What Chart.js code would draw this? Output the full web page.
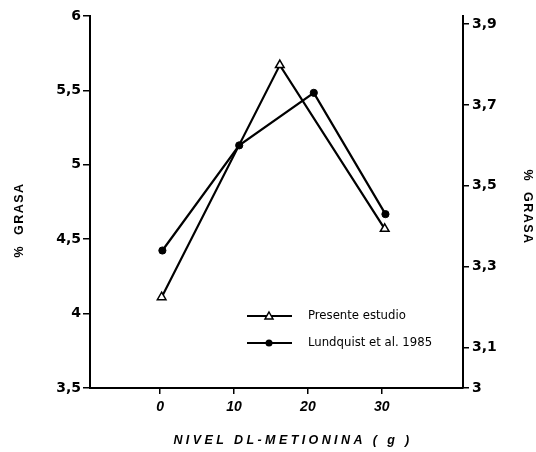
<!DOCTYPE html>
<html>
<head>
<meta charset="utf-8">
<script src="https://cdn.jsdelivr.net/npm/chart.js@4.4.1/dist/chart.umd.min.js"></script>
<style>
  html, body { margin: 0; padding: 0; background: #fff; }
  #wrap { width: 536px; height: 452px; position: relative; }
</style>
</head>
<body>
<div id="wrap"><canvas id="c"></canvas></div>
<script>
// ---- data ----
const xTicks = [0, 10, 20, 30];
const leftTicks = [3.5, 4, 4.5, 5, 5.5, 6];
const rightTicks = [3, 3.1, 3.3, 3.5, 3.7, 3.9];

const presX = [0.2, 16.2, 30.4];
const presY = [4.11, 5.67, 4.57];

const lundX = [0.3, 10.7, 20.8, 30.5];
const lundY = [3.34, 3.6, 3.73, 3.43];

const seriesNames = ['Presente estudio', 'Lundquist et al. 1985'];
const xTitle = 'NIVEL DL-METIONINA ( g )';
const yTitle = '%  GRASA';

const pts = (xs, ys) => xs.map((x, i) => ({ x: x, y: ys[i] }));
const fmt = v => String(v).replace('.', ',');

const titlesAndLegend = {
  id: 'titlesAndLegend',
  afterDraw(chart) {
    const ctx = chart.ctx;
    const a = chart.chartArea;
    ctx.save();
    ctx.fillStyle = '#000';
    ctx.strokeStyle = '#000';
    // x title
    ctx.font = 'italic bold 12.5px "Liberation Sans", sans-serif';
    if ('letterSpacing' in ctx) ctx.letterSpacing = '3.4px';
    ctx.textAlign = 'center';
    ctx.textBaseline = 'middle';
    ctx.fillText(xTitle, 293, 441);
    // left y title
    ctx.font = 'bold 12.5px "Liberation Sans", sans-serif';
    if ('letterSpacing' in ctx) ctx.letterSpacing = '1.5px';
    ctx.save();
    ctx.translate(19.5, 220);
    ctx.rotate(-Math.PI / 2);
    ctx.fillText(yTitle, 0, 0);
    ctx.restore();
    // right y title
    ctx.save();
    ctx.translate(527.5, 207);
    ctx.rotate(Math.PI / 2);
    ctx.fillText(yTitle, 0, 0);
    ctx.restore();
    if ('letterSpacing' in ctx) ctx.letterSpacing = '0px';

    // legend
    const rows = [316, 343];
    const x0 = a.left + 157, x1 = a.left + 202, xm = a.left + 179;
    ctx.lineWidth = 2;
    ctx.font = '13px "Liberation Sans Narrow", "DejaVu Sans Condensed", sans-serif';
    ctx.textAlign = 'left';
    rows.forEach((y, i) => {
      ctx.beginPath();
      ctx.moveTo(x0, y);
      ctx.lineTo(x1, y);
      ctx.stroke();
      if (i === 0) {
        ctx.beginPath();
        ctx.moveTo(xm, y - 4);
        ctx.lineTo(xm + 4, y + 3);
        ctx.lineTo(xm - 4, y + 3);
        ctx.closePath();
        ctx.fillStyle = '#fff';
        ctx.fill();
        ctx.lineWidth = 1.5;
        ctx.stroke();
        ctx.lineWidth = 2;
        ctx.fillStyle = '#000';
      } else {
        ctx.beginPath();
        ctx.arc(xm, y, 3.5, 0, Math.PI * 2);
        ctx.fill();
      }
      ctx.fillText(seriesNames[i], a.left + 218, y);
    });
    ctx.restore();
  }
};

new Chart(document.getElementById('c'), {
  type: 'line',
  data: {
    datasets: [
      {
        label: seriesNames[0],
        data: pts(presX, presY),
        yAxisID: 'y',
        borderColor: '#000',
        borderWidth: 2.2,
        pointStyle: 'triangle',
        pointRadius: 5,
        pointBackgroundColor: '#fff',
        pointBorderColor: '#000',
        pointBorderWidth: 1.5,
        tension: 0
      },
      {
        label: seriesNames[1],
        data: pts(lundX, lundY),
        yAxisID: 'y2',
        borderColor: '#000',
        borderWidth: 2.2,
        pointStyle: 'circle',
        pointRadius: 3.6,
        pointBackgroundColor: '#000',
        pointBorderColor: '#000',
        pointBorderWidth: 1,
        tension: 0
      }
    ]
  },
  options: {
    responsive: true,
    maintainAspectRatio: false,
    animation: false,
    layout: { padding: { top: 16, left: 0, right: 0, bottom: 0 } },
    plugins: { legend: { display: false }, tooltip: { enabled: false } },
    scales: {
      x: {
        type: 'linear',
        min: -9.5,
        max: 41,
        afterBuildTicks: s => { s.ticks = xTicks.map(v => ({ value: v })); },
        afterFit: s => { s.height = 64; },
        grid: { drawOnChartArea: false, drawTicks: true, tickLength: 6, color: '#000', lineWidth: 1.5 },
        border: { display: true, color: '#000', width: 2 },
        ticks: {
          color: '#000',
          padding: 5,
          font: { family: '"Liberation Sans", sans-serif', size: 14, weight: 'bold', style: 'italic' },
          callback: v => fmt(v)
        }
      },
      y: {
        position: 'left',
        min: 3.5,
        max: 6,
        afterBuildTicks: s => { s.ticks = leftTicks.map(v => ({ value: v })); },
        afterFit: s => { s.width = 90; },
        grid: { drawOnChartArea: false, drawTicks: true, tickLength: 7, color: '#000', lineWidth: 1.5 },
        border: { display: true, color: '#000', width: 2 },
        ticks: {
          color: '#000',
          padding: 2,
          font: { family: '"DejaVu Sans", sans-serif', size: 14, weight: 'bold' },
          callback: v => fmt(v)
        }
      },
      y2: {
        position: 'right',
        min: 3,
        max: 3.92,
        afterBuildTicks: s => { s.ticks = rightTicks.map(v => ({ value: v })); },
        afterFit: s => { s.width = 73; },
        grid: { drawOnChartArea: false, drawTicks: true, tickLength: 6, color: '#000', lineWidth: 1.5 },
        border: { display: true, color: '#000', width: 2 },
        ticks: {
          color: '#000',
          padding: 3,
          font: { family: '"DejaVu Sans", sans-serif', size: 14, weight: 'bold' },
          callback: v => fmt(v)
        }
      }
    }
  },
  plugins: [titlesAndLegend]
});
</script>
</body>
</html>
